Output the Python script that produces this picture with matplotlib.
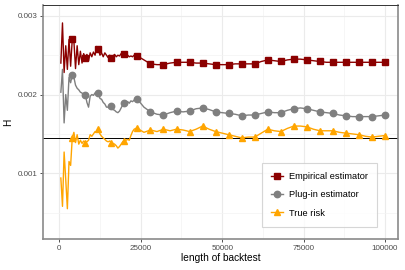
import matplotlib
matplotlib.use("Agg")
import matplotlib.pyplot as plt
import numpy as np

plt.rcParams['font.family'] = ['Liberation Sans', 'DejaVu Sans']

# backtest lengths
length_early = [500, 1000, 1500, 2000, 2500, 3000, 3500, 4000, 4500, 5000,
                5500, 6000, 6500, 7000, 7500, 8000, 8500, 9000, 9500, 10000,
                10500, 11000, 11500, 12000, 12500, 13000, 13500, 14000, 14500, 15000,
                15500, 16000, 16500, 17000, 17500, 18000, 18500, 19000, 19500, 20000,
                20500, 21000, 21500, 22000, 22500, 23000, 23500, 24000]
length_late = [26000, 28000, 30000, 32000, 34000, 36000, 38000, 40000, 42000, 44000,
               46000, 48000, 50000, 52000, 54000, 56000, 58000, 60000, 62000, 64000,
               66000, 68000, 70000, 72000, 74000, 76000, 78000, 80000, 82000, 84000,
               86000, 88000, 90000, 92000, 94000, 96000, 98000, 100000]

empirical = [0.00240, 0.00291, 0.00228, 0.00262, 0.00232, 0.00270, 0.00236, 0.00270, 0.00268, 0.00233,
             0.00262, 0.00238, 0.00255, 0.00240, 0.00252, 0.00247, 0.00251, 0.00243, 0.00253, 0.00248,
             0.00254, 0.00250, 0.00261, 0.00258, 0.00250, 0.00253, 0.00248, 0.00253, 0.00250, 0.00247,
             0.00250, 0.00247, 0.00249, 0.00251, 0.00248, 0.00250, 0.00249, 0.00252, 0.00250, 0.00251,
             0.00249, 0.00250, 0.00248, 0.00249, 0.00248, 0.00250, 0.00251, 0.00249,
             0.00244, 0.00239, 0.00238, 0.00238, 0.00240, 0.00241, 0.00241, 0.00241, 0.00240, 0.00240,
             0.00239, 0.00238, 0.00238, 0.00238, 0.00239, 0.00239, 0.00239, 0.00239, 0.00242, 0.00244,
             0.00243, 0.00242, 0.00244, 0.00245, 0.00245, 0.00244, 0.00243, 0.00242, 0.00241, 0.00241,
             0.00241, 0.00241, 0.00241, 0.00241, 0.00241, 0.00241, 0.00241, 0.00241]

plugin = [0.00203, 0.00232, 0.00164, 0.00200, 0.00180, 0.00222, 0.00215, 0.00225, 0.00222, 0.00212,
          0.00208, 0.00206, 0.00203, 0.00202, 0.00198, 0.00200, 0.00190, 0.00184, 0.00198, 0.00200,
          0.00199, 0.00202, 0.00200, 0.00202, 0.00195, 0.00194, 0.00190, 0.00188, 0.00184, 0.00184,
          0.00186, 0.00185, 0.00181, 0.00180, 0.00178, 0.00177, 0.00179, 0.00183, 0.00187, 0.00189,
          0.00190, 0.00191, 0.00189, 0.00192, 0.00191, 0.00193, 0.00195, 0.00194,
          0.00184, 0.00178, 0.00175, 0.00174, 0.00177, 0.00179, 0.00178, 0.00179, 0.00182, 0.00183,
          0.00181, 0.00178, 0.00177, 0.00176, 0.00175, 0.00173, 0.00174, 0.00174, 0.00176, 0.00178,
          0.00177, 0.00177, 0.00180, 0.00182, 0.00183, 0.00182, 0.00180, 0.00178, 0.00177, 0.00176,
          0.00174, 0.00173, 0.00172, 0.00172, 0.00172, 0.00172, 0.00173, 0.00174]

true_risk = [0.00094, 0.00058, 0.00127, 0.00092, 0.00055, 0.00115, 0.00110, 0.00145, 0.00152, 0.00139,
             0.00149, 0.00137, 0.00142, 0.00138, 0.00141, 0.00139, 0.00140, 0.00142, 0.00149, 0.00147,
             0.00150, 0.00153, 0.00152, 0.00156, 0.00150, 0.00147, 0.00145, 0.00143, 0.00141, 0.00140,
             0.00141, 0.00139, 0.00138, 0.00137, 0.00135, 0.00132, 0.00134, 0.00137, 0.00140, 0.00141,
             0.00142, 0.00143, 0.00142, 0.00148, 0.00153, 0.00156, 0.00157, 0.00157,
             0.00152, 0.00155, 0.00153, 0.00156, 0.00154, 0.00156, 0.00155, 0.00153, 0.00156, 0.00160,
             0.00156, 0.00153, 0.00151, 0.00149, 0.00147, 0.00145, 0.00146, 0.00146, 0.00151, 0.00156,
             0.00154, 0.00153, 0.00157, 0.00160, 0.00160, 0.00159, 0.00156, 0.00154, 0.00154, 0.00154,
             0.00152, 0.00151, 0.00150, 0.00149, 0.00147, 0.00146, 0.00147, 0.00148]

reference_level = 0.00145

series_labels = ["Empirical estimator", "Plug-in estimator", "True risk"]
x_ticks = [0, 25000, 50000, 75000, 100000]
y_ticks = [0.001, 0.002, 0.003]

lengths = np.array(length_early + length_late)
marker_idx = [i for i, v in enumerate(lengths) if v % 4000 == 0]

fig = plt.figure(figsize=(4.05, 2.7), dpi=100)
ax = fig.add_axes([0.106, 0.115, 0.877, 0.866])

ax.set_xlim(-5000, 104000)
ax.set_ylim(0.000166, 0.003136)

# grid
ax.set_xticks(x_ticks)
ax.set_yticks(y_ticks)
ax.set_xticks([12500, 37500, 62500, 87500], minor=True)
ax.set_yticks([0.0005, 0.0015, 0.0025], minor=True)
ax.grid(True, which='major', color='#EBEBEB', lw=0.8)
ax.grid(True, which='minor', color='#F3F3F3', lw=0.5)
ax.set_axisbelow(True)
ax.tick_params(which='minor', length=0)
ax.tick_params(which='major', length=2.5, width=0.6, color='#333333',
               labelsize=5.8, labelcolor='#4D4D4D', pad=1.5)
ax.set_xticklabels([str(v) for v in x_ticks])
ax.set_yticklabels([f"{v:.3f}" for v in y_ticks])

for s in ['left', 'bottom', 'right']:
    ax.spines[s].set_color('#8A8A8A')
    ax.spines[s].set_linewidth(1.2)
ax.spines['top'].set_color('#333333')
ax.spines['top'].set_linewidth(0.7)

ax.axhline(reference_level, color='black', lw=0.7, zorder=2)

styles = [
    (empirical, '#8B0000', 's', 4.4),
    (plugin, '#7F7F7F', 'o', 4.6),
    (true_risk, '#FFA500', '^', 5.0),
]
for (vals, col, mk, ms), lab in zip(styles, series_labels):
    ax.plot(lengths, vals, color=col, lw=1.0, marker=mk, ms=ms,
            markevery=marker_idx, label=lab, zorder=3)

ax.set_xlabel("length of backtest", fontsize=7.3, labelpad=1)
ax.set_ylabel("H", fontsize=7.3, labelpad=3)

leg = ax.legend(loc='lower left', bbox_to_anchor=(0.617, 0.051), borderaxespad=0,
                fontsize=6.7, frameon=True, fancybox=False, edgecolor='#CCCCCC',
                handlelength=1.3, borderpad=1.0, labelspacing=1.0,
                handletextpad=0.6)
leg.get_frame().set_linewidth(0.8)

fig.savefig("out.png", dpi=100)
